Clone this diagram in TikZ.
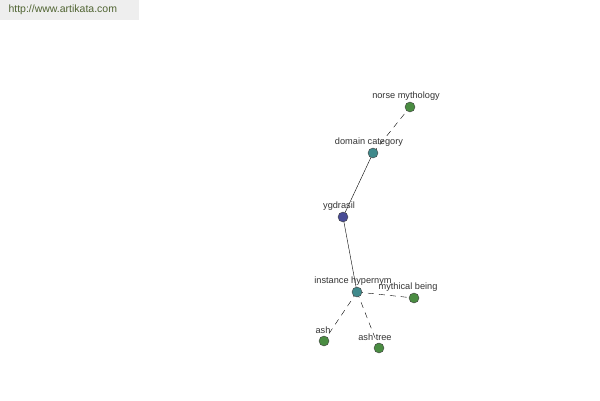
\documentclass[tikz,border=0pt]{standalone}
\usepackage{fontspec}
\setmainfont{Liberation Sans}
\usetikzlibrary{positioning,calc,backgrounds}
\definecolor{leafgreen}{RGB}{74,140,66}
\definecolor{relteal}{RGB}{64,138,140}
\definecolor{rootblue}{RGB}{72,76,150}
\definecolor{headgray}{RGB}{238,238,238}
\definecolor{headtext}{RGB}{80,100,50}

\begin{document}
\begin{tikzpicture}[
    x=1pt, y=-1pt,
    wnode/.style={circle, draw=black!75, thin, minimum size=10pt, inner sep=0pt},
    lbl/.style={font=\fontsize{9.2}{11}\selectfont, text=black!80, inner sep=0pt},
    rel/.style={thin, black},
    relx/.style={thin, black, dash pattern=on 6pt off 5pt},
  ]
    \useasboundingbox (0,0) rectangle (600,400);

    % Site banner
    \node[fill=headgray, minimum width=139pt, minimum height=20pt, anchor=north west,
          inner sep=0pt] (banner) at (0,0) {};
    \node[font=\fontsize{10.5}{12}\selectfont, text=headtext, anchor=west]
      (site) at (5,10) {http://www.artikata.com};

    % Word nodes
    \node[wnode, fill=leafgreen] (norse) at (410,107) {};
    \node[wnode, fill=relteal] (domain) at (373,153) {};
    \node[wnode, fill=rootblue] (ygdrasil) at (343,217) {};
    \node[wnode, fill=relteal] (instance) at (357,292) {};
    \node[wnode, fill=leafgreen] (mythical) at (414,298) {};
    \node[wnode, fill=leafgreen] (ash) at (324,341) {};
    \node[wnode, fill=leafgreen] (ashtree) at (379,348) {};

    % Labels above the nodes
    \node[lbl] (norse-t) at ($(norse)+(-4,-11)$) {norse mythology};
    \node[lbl] (domain-t) at ($(domain)+(-4,-11)$) {domain category};
    \node[lbl] (ygdrasil-t) at ($(ygdrasil)+(-4,-11)$) {ygdrasil};
    \node[lbl] (instance-t) at ($(instance)+(-4,-11)$) {instance hypernym};
    \node[lbl] (mythical-t) at ($(mythical)+(-6,-11)$) {mythical being};
    \node[lbl] (ash-t) at ($(ash)+(-1,-11)$) {ash};
    \node[lbl] (ashtree-t) at ($(ashtree)+(-4,-11)$) {ash tree};

    % Relations, behind the nodes
    \begin{scope}[on background layer]
      \draw[relx] (domain.center) -- (norse.center);
      \draw[rel] (ygdrasil.center) -- (domain.center);
      \draw[rel] (ygdrasil.center) -- (instance.center);
      \draw[relx] (instance.center) -- (mythical.center);
      \draw[relx] (instance.center) -- (ash.center);
      \draw[relx] (instance.center) -- (ashtree.center);
    \end{scope}
  \end{tikzpicture}
\end{document}
